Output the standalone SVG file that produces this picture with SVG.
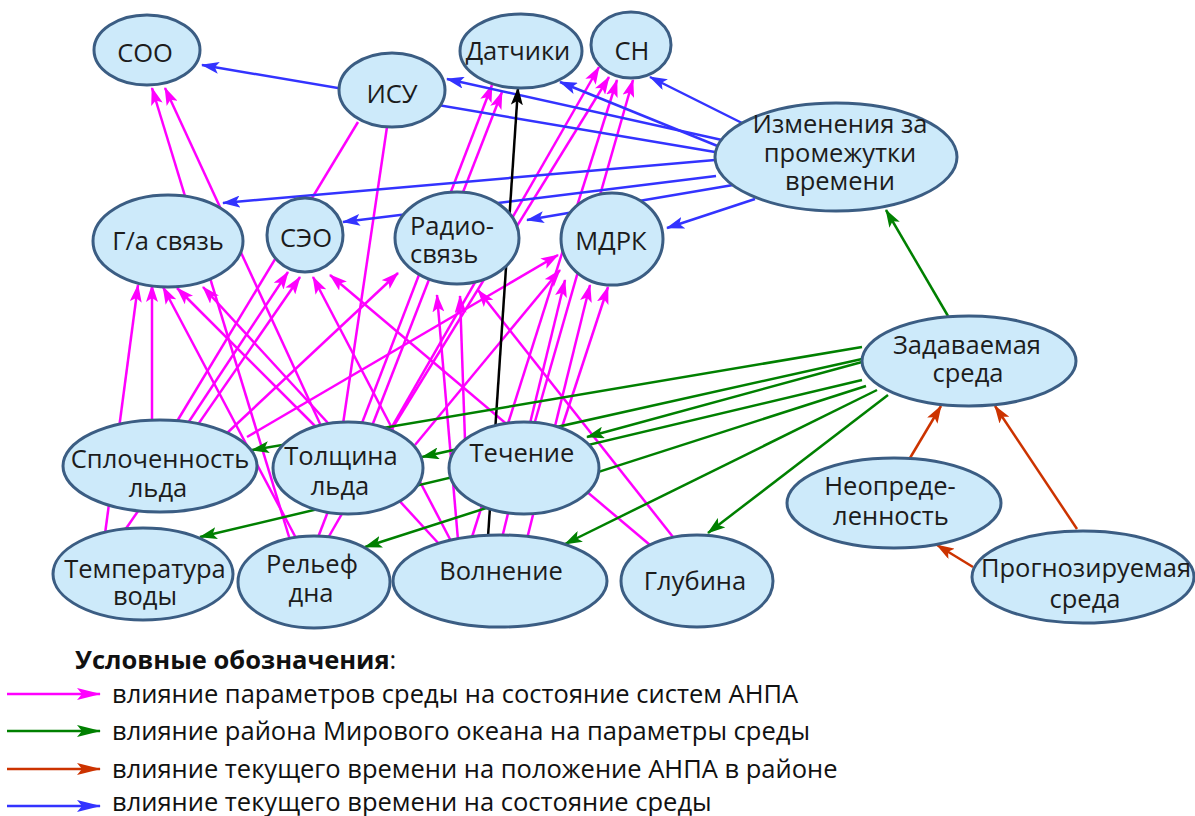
<svg xmlns="http://www.w3.org/2000/svg" width="1195" height="816" viewBox="0 0 1195 816">
<style>
.n ellipse{fill:#cdeafa;stroke:#3b5d83;stroke-width:3}
.n text{font-family:"Open Sans","Noto Sans",sans-serif;font-size:25.5px;fill:#1c1c1c;text-anchor:middle}
.m{stroke:#ff00ff;stroke-width:2.5;marker-end:url(#am)}
.mp{stroke:#ff00ff;stroke-width:2.5}
.b{stroke:#3333ff;stroke-width:2.5;marker-end:url(#ab)}
.g{stroke:#008000;stroke-width:2.5;marker-end:url(#ag)}
.o{stroke:#cc3300;stroke-width:2.5;marker-end:url(#ao)}
.k{stroke:#000000;stroke-width:2.5;marker-end:url(#ak)}
.lg{font-family:"Open Sans","Noto Sans",sans-serif;font-size:25.5px;fill:#111}
</style>
<defs>
<marker id="am" viewBox="0 0 18 12" refX="17" refY="6" markerWidth="18" markerHeight="12" markerUnits="userSpaceOnUse" orient="auto"><path d="M0,0 L18,6 L0,12 L4,6 z" fill="#ff00ff"/></marker>
<marker id="ab" viewBox="0 0 18 12" refX="17" refY="6" markerWidth="18" markerHeight="12" markerUnits="userSpaceOnUse" orient="auto"><path d="M0,0 L18,6 L0,12 L4,6 z" fill="#3333ff"/></marker>
<marker id="ag" viewBox="0 0 18 12" refX="17" refY="6" markerWidth="18" markerHeight="12" markerUnits="userSpaceOnUse" orient="auto"><path d="M0,0 L18,6 L0,12 L4,6 z" fill="#008000"/></marker>
<marker id="ao" viewBox="0 0 18 12" refX="17" refY="6" markerWidth="18" markerHeight="12" markerUnits="userSpaceOnUse" orient="auto"><path d="M0,0 L18,6 L0,12 L4,6 z" fill="#cc3300"/></marker>
<marker id="ak" viewBox="0 0 18 12" refX="17" refY="6" markerWidth="18" markerHeight="12" markerUnits="userSpaceOnUse" orient="auto"><path d="M0,0 L18,6 L0,12 L4,6 z" fill="#000000"/></marker>
<marker id="lm" viewBox="0 0 24 12" refX="23" refY="6" markerWidth="24" markerHeight="12" markerUnits="userSpaceOnUse" orient="auto"><path d="M0,0 L24,6 L0,12 L5,6 z" fill="#ff00ff"/></marker>
<marker id="lg2" viewBox="0 0 24 12" refX="23" refY="6" markerWidth="24" markerHeight="12" markerUnits="userSpaceOnUse" orient="auto"><path d="M0,0 L24,6 L0,12 L5,6 z" fill="#008000"/></marker>
<marker id="lo" viewBox="0 0 24 12" refX="23" refY="6" markerWidth="24" markerHeight="12" markerUnits="userSpaceOnUse" orient="auto"><path d="M0,0 L24,6 L0,12 L5,6 z" fill="#cc3300"/></marker>
<marker id="lb" viewBox="0 0 24 12" refX="23" refY="6" markerWidth="24" markerHeight="12" markerUnits="userSpaceOnUse" orient="auto"><path d="M0,0 L24,6 L0,12 L5,6 z" fill="#3333ff"/></marker>
</defs>
<rect width="1195" height="816" fill="#ffffff"/>
<g id="connectors">
<line class="m" x1="290" y1="540" x2="152" y2="88"/>
<line class="m" x1="322" y1="428" x2="165" y2="88"/>
<line class="m" x1="317" y1="540" x2="492" y2="85"/>
<line class="m" x1="372" y1="426" x2="502" y2="92"/>
<line class="m" x1="328" y1="538" x2="599" y2="67"/>
<line class="m" x1="390" y1="432" x2="609" y2="77"/>
<line class="m" x1="472" y1="537" x2="617" y2="80"/>
<line class="m" x1="534" y1="425" x2="633" y2="80"/>
<line class="m" x1="105" y1="534" x2="138" y2="285"/>
<line class="m" x1="152" y1="422" x2="152" y2="285"/>
<line class="m" x1="297" y1="540" x2="163" y2="287"/>
<line class="m" x1="317" y1="428" x2="177" y2="288"/>
<line class="m" x1="440" y1="545" x2="203" y2="287"/>
<line class="m" x1="188" y1="423" x2="288" y2="272"/>
<line class="m" x1="125" y1="530" x2="300" y2="277"/>
<line class="m" x1="452" y1="543" x2="313" y2="277"/>
<line class="m" x1="650" y1="545" x2="330" y2="275"/>
<line class="m" x1="226" y1="434" x2="398" y2="273"/>
<line class="m" x1="458" y1="540" x2="437" y2="295"/>
<line class="m" x1="465" y1="440" x2="460" y2="296"/>
<line class="m" x1="673" y1="537" x2="478" y2="290"/>
<line class="m" x1="247" y1="437" x2="558" y2="255"/>
<line class="m" x1="415" y1="445" x2="560" y2="270"/>
<line class="m" x1="502" y1="538" x2="565" y2="280"/>
<line class="m" x1="527" y1="539" x2="590" y2="285"/>
<line class="m" x1="562" y1="427" x2="608" y2="287"/>
<line class="mp" x1="176" y1="423" x2="358" y2="122"/>
<line class="mp" x1="343" y1="424" x2="387" y2="127"/>
<line class="b" x1="715" y1="152" x2="202" y2="65"/>
<line class="b" x1="722" y1="140" x2="447" y2="79"/>
<line class="b" x1="720" y1="147" x2="560" y2="82"/>
<line class="b" x1="742" y1="123" x2="650" y2="77"/>
<line class="b" x1="715" y1="160" x2="223" y2="203"/>
<line class="b" x1="716" y1="176" x2="343" y2="222"/>
<line class="b" x1="733" y1="185" x2="527" y2="220"/>
<line class="b" x1="755" y1="199" x2="667" y2="228"/>
<line class="k" x1="488" y1="537" x2="518" y2="88"/>
<line class="g" x1="948" y1="316" x2="886" y2="210"/>
<line class="g" x1="862" y1="347" x2="252" y2="450"/>
<line class="g" x1="862" y1="359" x2="422" y2="457"/>
<line class="g" x1="862" y1="362" x2="587" y2="437"/>
<line class="g" x1="862" y1="380" x2="200" y2="537"/>
<line class="g" x1="866" y1="386" x2="365" y2="547"/>
<line class="g" x1="877" y1="390" x2="565" y2="544"/>
<line class="g" x1="888" y1="395" x2="708" y2="533"/>
<line class="o" x1="910" y1="458" x2="941" y2="406"/>
<line class="o" x1="1077" y1="529" x2="995" y2="406"/>
<line class="o" x1="973" y1="567" x2="937" y2="545"/>
</g>
<g id="n-soo" class="n"><ellipse cx="147" cy="50" rx="53" ry="35"/><text x="145" y="62">СОО</text></g>
<g id="n-isu" class="n"><ellipse cx="392" cy="90" rx="53" ry="37"/><text x="392" y="103">ИСУ</text></g>
<g id="n-dat" class="n"><ellipse cx="521" cy="51" rx="61" ry="37"/><text x="518" y="60">Датчики</text></g>
<g id="n-sn" class="n"><ellipse cx="631" cy="45" rx="40" ry="33"/><text x="632" y="60">СН</text></g>
<g id="n-izm" class="n"><ellipse cx="836" cy="157" rx="121" ry="54"/><text x="840" y="133">Изменения за</text><text x="840" y="162">промежутки</text><text x="840" y="190">времени</text></g>
<g id="n-ga" class="n"><ellipse cx="168" cy="241" rx="75" ry="46"/><text x="168" y="250">Г/а связь</text></g>
<g id="n-seo" class="n"><ellipse cx="305" cy="235" rx="38" ry="37"/><text x="306" y="247">СЭО</text></g>
<g id="n-radio" class="n"><ellipse cx="457" cy="238" rx="62" ry="46"/><text x="410" y="235" style="text-anchor:start">Радио-</text><text x="410" y="263" style="text-anchor:start">связь</text></g>
<g id="n-mdrk" class="n"><ellipse cx="612" cy="239" rx="51" ry="46"/><text x="611" y="250">МДРК</text></g>
<g id="n-zad" class="n"><ellipse cx="969" cy="361" rx="107" ry="45"/><text x="967" y="354">Задаваемая</text><text x="968" y="382">среда</text></g>
<g id="n-spl" class="n"><ellipse cx="160" cy="466" rx="97" ry="46"/><text x="160" y="468">Сплоченность</text><text x="158" y="497">льда</text></g>
<g id="n-tol" class="n"><ellipse cx="348" cy="468" rx="75" ry="46"/><text x="341" y="465">Толщина</text><text x="340" y="495">льда</text></g>
<g id="n-tech" class="n"><ellipse cx="524" cy="468" rx="75" ry="46"/><text x="522" y="462">Течение</text></g>
<g id="n-temp" class="n"><ellipse cx="143" cy="574" rx="90" ry="46"/><text x="145" y="578">Температура</text><text x="145" y="605">воды</text></g>
<g id="n-rel" class="n"><ellipse cx="314" cy="582" rx="76" ry="46"/><text x="312" y="573">Рельеф</text><text x="311" y="602">дна</text></g>
<g id="n-voln" class="n"><ellipse cx="500" cy="581" rx="107" ry="46"/><text x="501" y="580">Волнение</text></g>
<g id="n-glub" class="n"><ellipse cx="697" cy="581" rx="76" ry="46"/><text x="695" y="590">Глубина</text></g>
<g id="n-neop" class="n"><ellipse cx="894" cy="503" rx="107" ry="45"/><text x="890" y="495">Неопреде-</text><text x="891" y="525">ленность</text></g>
<g id="n-prog" class="n"><ellipse cx="1083" cy="577" rx="111" ry="46"/><text x="1086" y="577">Прогнозируемая</text><text x="1085" y="608">среда</text></g>
<g id="legend">
<text class="lg" x="75" y="669"><tspan font-weight="bold">Условные обозначения</tspan>:</text>
<line x1="7" y1="694" x2="100" y2="694" stroke="#ff00ff" stroke-width="2.5" marker-end="url(#lm)"/>
<text class="lg" x="112" y="703">влияние параметров среды на состояние систем АНПА</text>
<line x1="7" y1="731" x2="100" y2="731" stroke="#008000" stroke-width="2.5" marker-end="url(#lg2)"/>
<text class="lg" x="112" y="740">влияние района Мирового океана на параметры среды</text>
<line x1="7" y1="769" x2="100" y2="769" stroke="#cc3300" stroke-width="2.5" marker-end="url(#lo)"/>
<text class="lg" x="112" y="778">влияние текущего времени на положение АНПА в районе</text>
<line x1="7" y1="806" x2="100" y2="806" stroke="#3333ff" stroke-width="2.5" marker-end="url(#lb)"/>
<text class="lg" x="112" y="811">влияние текущего времени на состояние среды</text>
</g>
</svg>
